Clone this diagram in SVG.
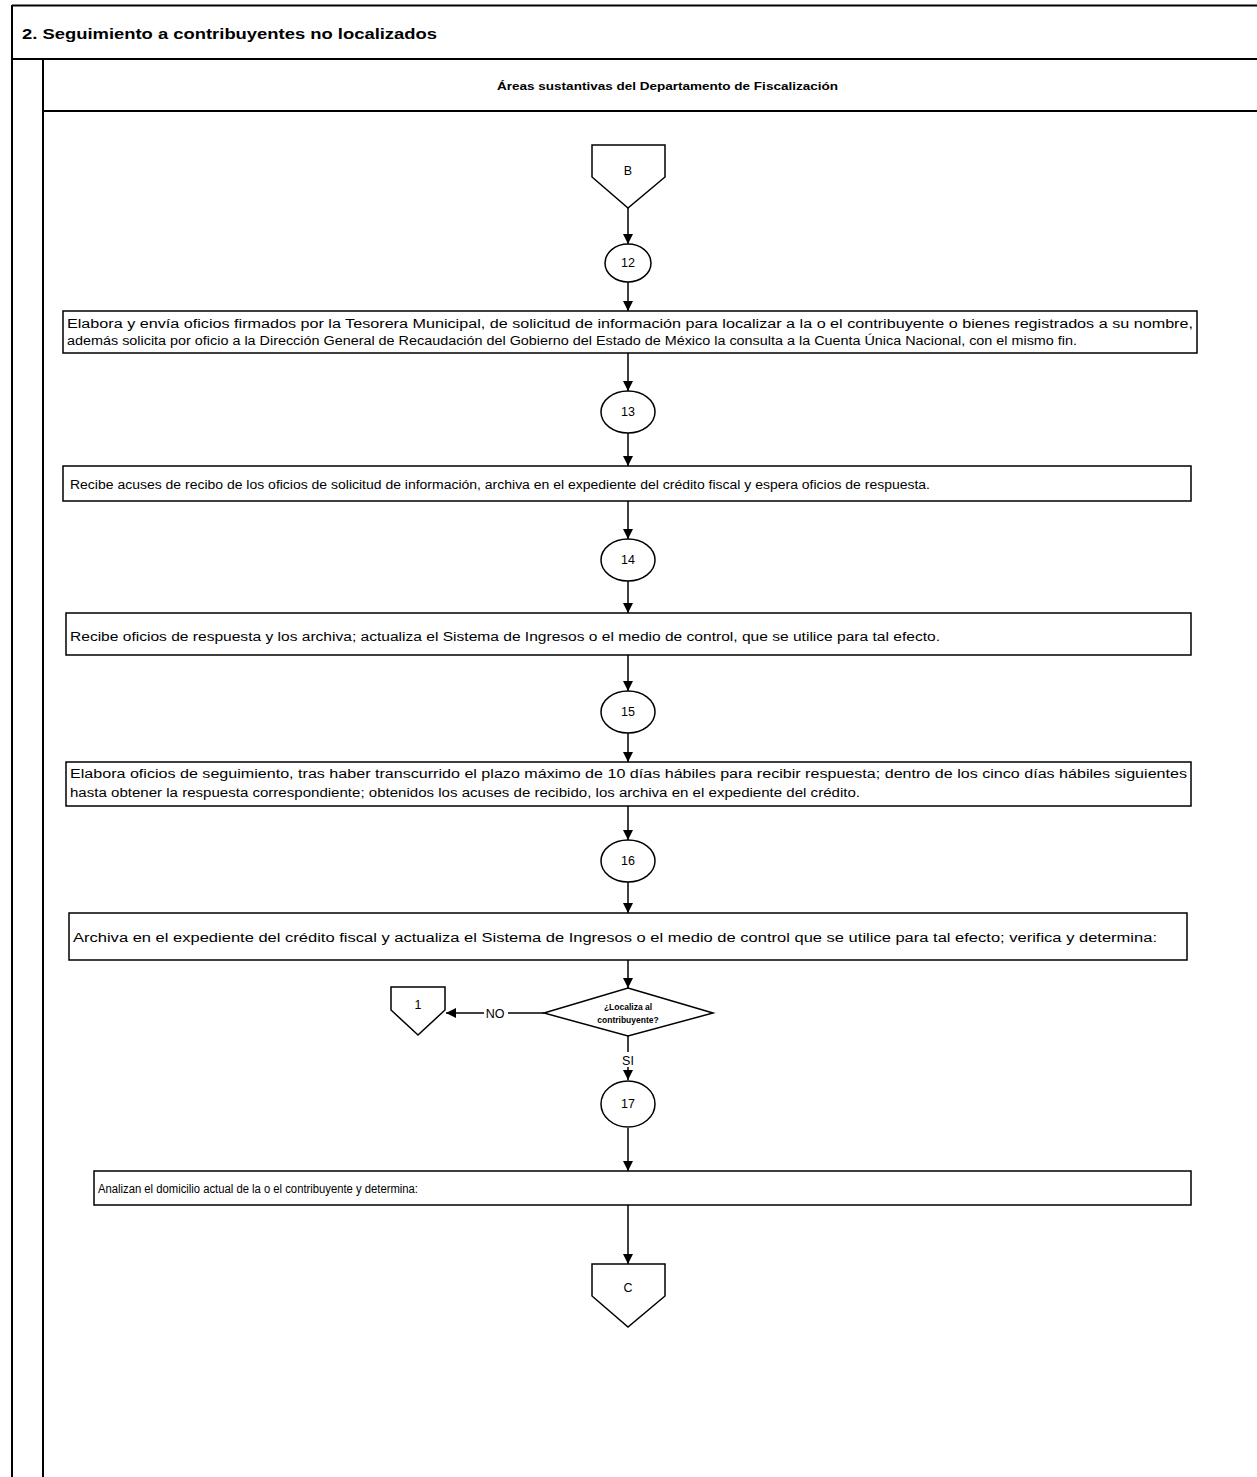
<svg xmlns="http://www.w3.org/2000/svg" width="1257" height="1477" viewBox="0 0 1257 1477">
<defs>
<marker id="ah" viewBox="0 0 10 10" refX="10" refY="5" markerWidth="10" markerHeight="10" markerUnits="userSpaceOnUse" orient="auto">
<path d="M0,0 L10,5 L0,10 Z" fill="#000"/>
</marker>
</defs>
<style>
.frame{fill:none;stroke:#000;stroke-width:2}
.shape{fill:#fff;stroke:#000;stroke-width:1.5}
.edge{fill:none;stroke:#000;stroke-width:1.5;marker-end:url(#ah)}
.line{fill:none;stroke:#000;stroke-width:1.5}
.t{font-family:"Liberation Sans",Arial,sans-serif;font-size:12.5px;fill:#000}
.c{text-anchor:middle}
.b{font-weight:bold}
</style>
<rect width="1257" height="1477" fill="#fff"/>
<g id="frame">
<line class="frame" x1="12" y1="5.5" x2="1257" y2="5.5"/>
<line class="frame" x1="12" y1="5" x2="12" y2="1477"/>
<line class="frame" x1="12" y1="59" x2="1257" y2="59"/>
<line class="frame" x1="43" y1="59" x2="43" y2="1477"/>
<line class="frame" x1="43" y1="111" x2="1257" y2="111"/>
<text class="t b" x="22" y="39" style="font-size:15px" textLength="415" lengthAdjust="spacingAndGlyphs">2. Seguimiento a contribuyentes no localizados</text>
<text class="t b" x="497" y="90" style="font-size:11.5px" textLength="341" lengthAdjust="spacingAndGlyphs">Áreas sustantivas del Departamento de Fiscalización</text>
</g>
<g id="connectors">
<line class="edge" x1="628" y1="208" x2="628" y2="244"/>
<line class="edge" x1="628" y1="282" x2="628" y2="311"/>
<line class="edge" x1="628" y1="353" x2="628" y2="391"/>
<line class="edge" x1="628" y1="433" x2="628" y2="466"/>
<line class="edge" x1="628" y1="501" x2="628" y2="539"/>
<line class="edge" x1="628" y1="581" x2="628" y2="613"/>
<line class="edge" x1="628" y1="655" x2="628" y2="691"/>
<line class="edge" x1="628" y1="733" x2="628" y2="762"/>
<line class="edge" x1="628" y1="806" x2="628" y2="840"/>
<line class="edge" x1="628" y1="882" x2="628" y2="913"/>
<line class="edge" x1="628" y1="960" x2="628" y2="988"/>
<line class="line" x1="544" y1="1013" x2="508" y2="1013"/>
<line class="edge" x1="484" y1="1013" x2="446" y2="1013"/>
<text class="t c" x="495" y="1018" style="font-size:12.5px">NO</text>
<line class="line" x1="628" y1="1036" x2="628" y2="1052"/>
<text class="t c" x="628" y="1065" style="font-size:12.5px">SI</text>
<line class="edge" x1="628" y1="1067" x2="628" y2="1080"/>
<line class="edge" x1="628" y1="1128" x2="628" y2="1171"/>
<line class="edge" x1="628" y1="1205" x2="628" y2="1264"/>
</g>
<g id="offpage-B">
<path class="shape" d="M592,145 L665,145 L665,177 L628,208 L592,177 Z"/>
<text class="t c" x="628" y="175">B</text>
</g>
<g id="n12">
<ellipse class="shape" cx="628" cy="263" rx="23" ry="19"/>
<text class="t c" x="628" y="267">12</text>
</g>
<g id="a12">
<rect class="shape" x="63" y="311" width="1134" height="42"/>
<text class="t" x="67" y="328" textLength="1126" lengthAdjust="spacingAndGlyphs">Elabora y envía oficios firmados por la Tesorera Municipal, de solicitud de información para localizar a la o el contribuyente o bienes registrados a su nombre,</text>
<text class="t" x="67" y="345" textLength="1010" lengthAdjust="spacingAndGlyphs">además solicita por oficio a la Dirección General de Recaudación del Gobierno del Estado de México la consulta a la Cuenta Única Nacional, con el mismo fin.</text>
</g>
<g id="n13">
<ellipse class="shape" cx="628" cy="412" rx="27" ry="21"/>
<text class="t c" x="628" y="416">13</text>
</g>
<g id="a13">
<rect class="shape" x="63" y="466" width="1128" height="35"/>
<text class="t" x="70" y="489" textLength="860" lengthAdjust="spacingAndGlyphs">Recibe acuses de recibo de los oficios de solicitud de información, archiva en el expediente del crédito fiscal y espera oficios de respuesta.</text>
</g>
<g id="n14">
<ellipse class="shape" cx="628" cy="560" rx="27" ry="21"/>
<text class="t c" x="628" y="564">14</text>
</g>
<g id="a14">
<rect class="shape" x="66" y="613" width="1125" height="42"/>
<text class="t" x="70" y="641" textLength="870" lengthAdjust="spacingAndGlyphs">Recibe oficios de respuesta y los archiva; actualiza el Sistema de Ingresos o el medio de control, que se utilice para tal efecto.</text>
</g>
<g id="n15">
<ellipse class="shape" cx="628" cy="712" rx="27" ry="21"/>
<text class="t c" x="628" y="716">15</text>
</g>
<g id="a15">
<rect class="shape" x="66" y="762" width="1125" height="44"/>
<text class="t" x="70" y="778" textLength="1117" lengthAdjust="spacingAndGlyphs">Elabora oficios de seguimiento, tras haber transcurrido el plazo máximo de 10 días hábiles para recibir respuesta; dentro de los cinco días hábiles siguientes</text>
<text class="t" x="70" y="797" textLength="790" lengthAdjust="spacingAndGlyphs">hasta obtener la respuesta correspondiente; obtenidos los acuses de recibido, los archiva en el expediente del crédito.</text>
</g>
<g id="n16">
<ellipse class="shape" cx="628" cy="861" rx="27" ry="21"/>
<text class="t c" x="628" y="865">16</text>
</g>
<g id="a16">
<rect class="shape" x="69" y="913" width="1118" height="47"/>
<text class="t" x="73" y="942" textLength="1084" lengthAdjust="spacingAndGlyphs">Archiva en el expediente del crédito fiscal y actualiza el Sistema de Ingresos  o el medio de control que se utilice para tal efecto; verifica y determina:</text>
</g>
<g id="decision">
<path class="shape" d="M628,988 L713,1013 L628,1036 L544,1013 Z"/>
<text class="t c b" x="628" y="1010" style="font-size:8.5px">¿Localiza al</text>
<text class="t c b" x="628" y="1023" style="font-size:8.5px">contribuyente?</text>
</g>
<g id="offpage-1">
<path class="shape" d="M391,987 L445,987 L445,1010 L418,1035 L391,1010 Z"/>
<text class="t c" x="418" y="1009">1</text>
</g>
<g id="n17">
<ellipse class="shape" cx="628" cy="1104" rx="27" ry="23"/>
<text class="t c" x="628" y="1108">17</text>
</g>
<g id="a17">
<rect class="shape" x="94" y="1171" width="1097" height="34"/>
<text class="t" x="98" y="1193" textLength="320" lengthAdjust="spacingAndGlyphs">Analizan el domicilio actual de la o el contribuyente y determina:</text>
</g>
<g id="offpage-C">
<path class="shape" d="M592,1264 L665,1264 L665,1296 L628,1327 L592,1296 Z"/>
<text class="t c" x="628" y="1292">C</text>
</g>
</svg>
